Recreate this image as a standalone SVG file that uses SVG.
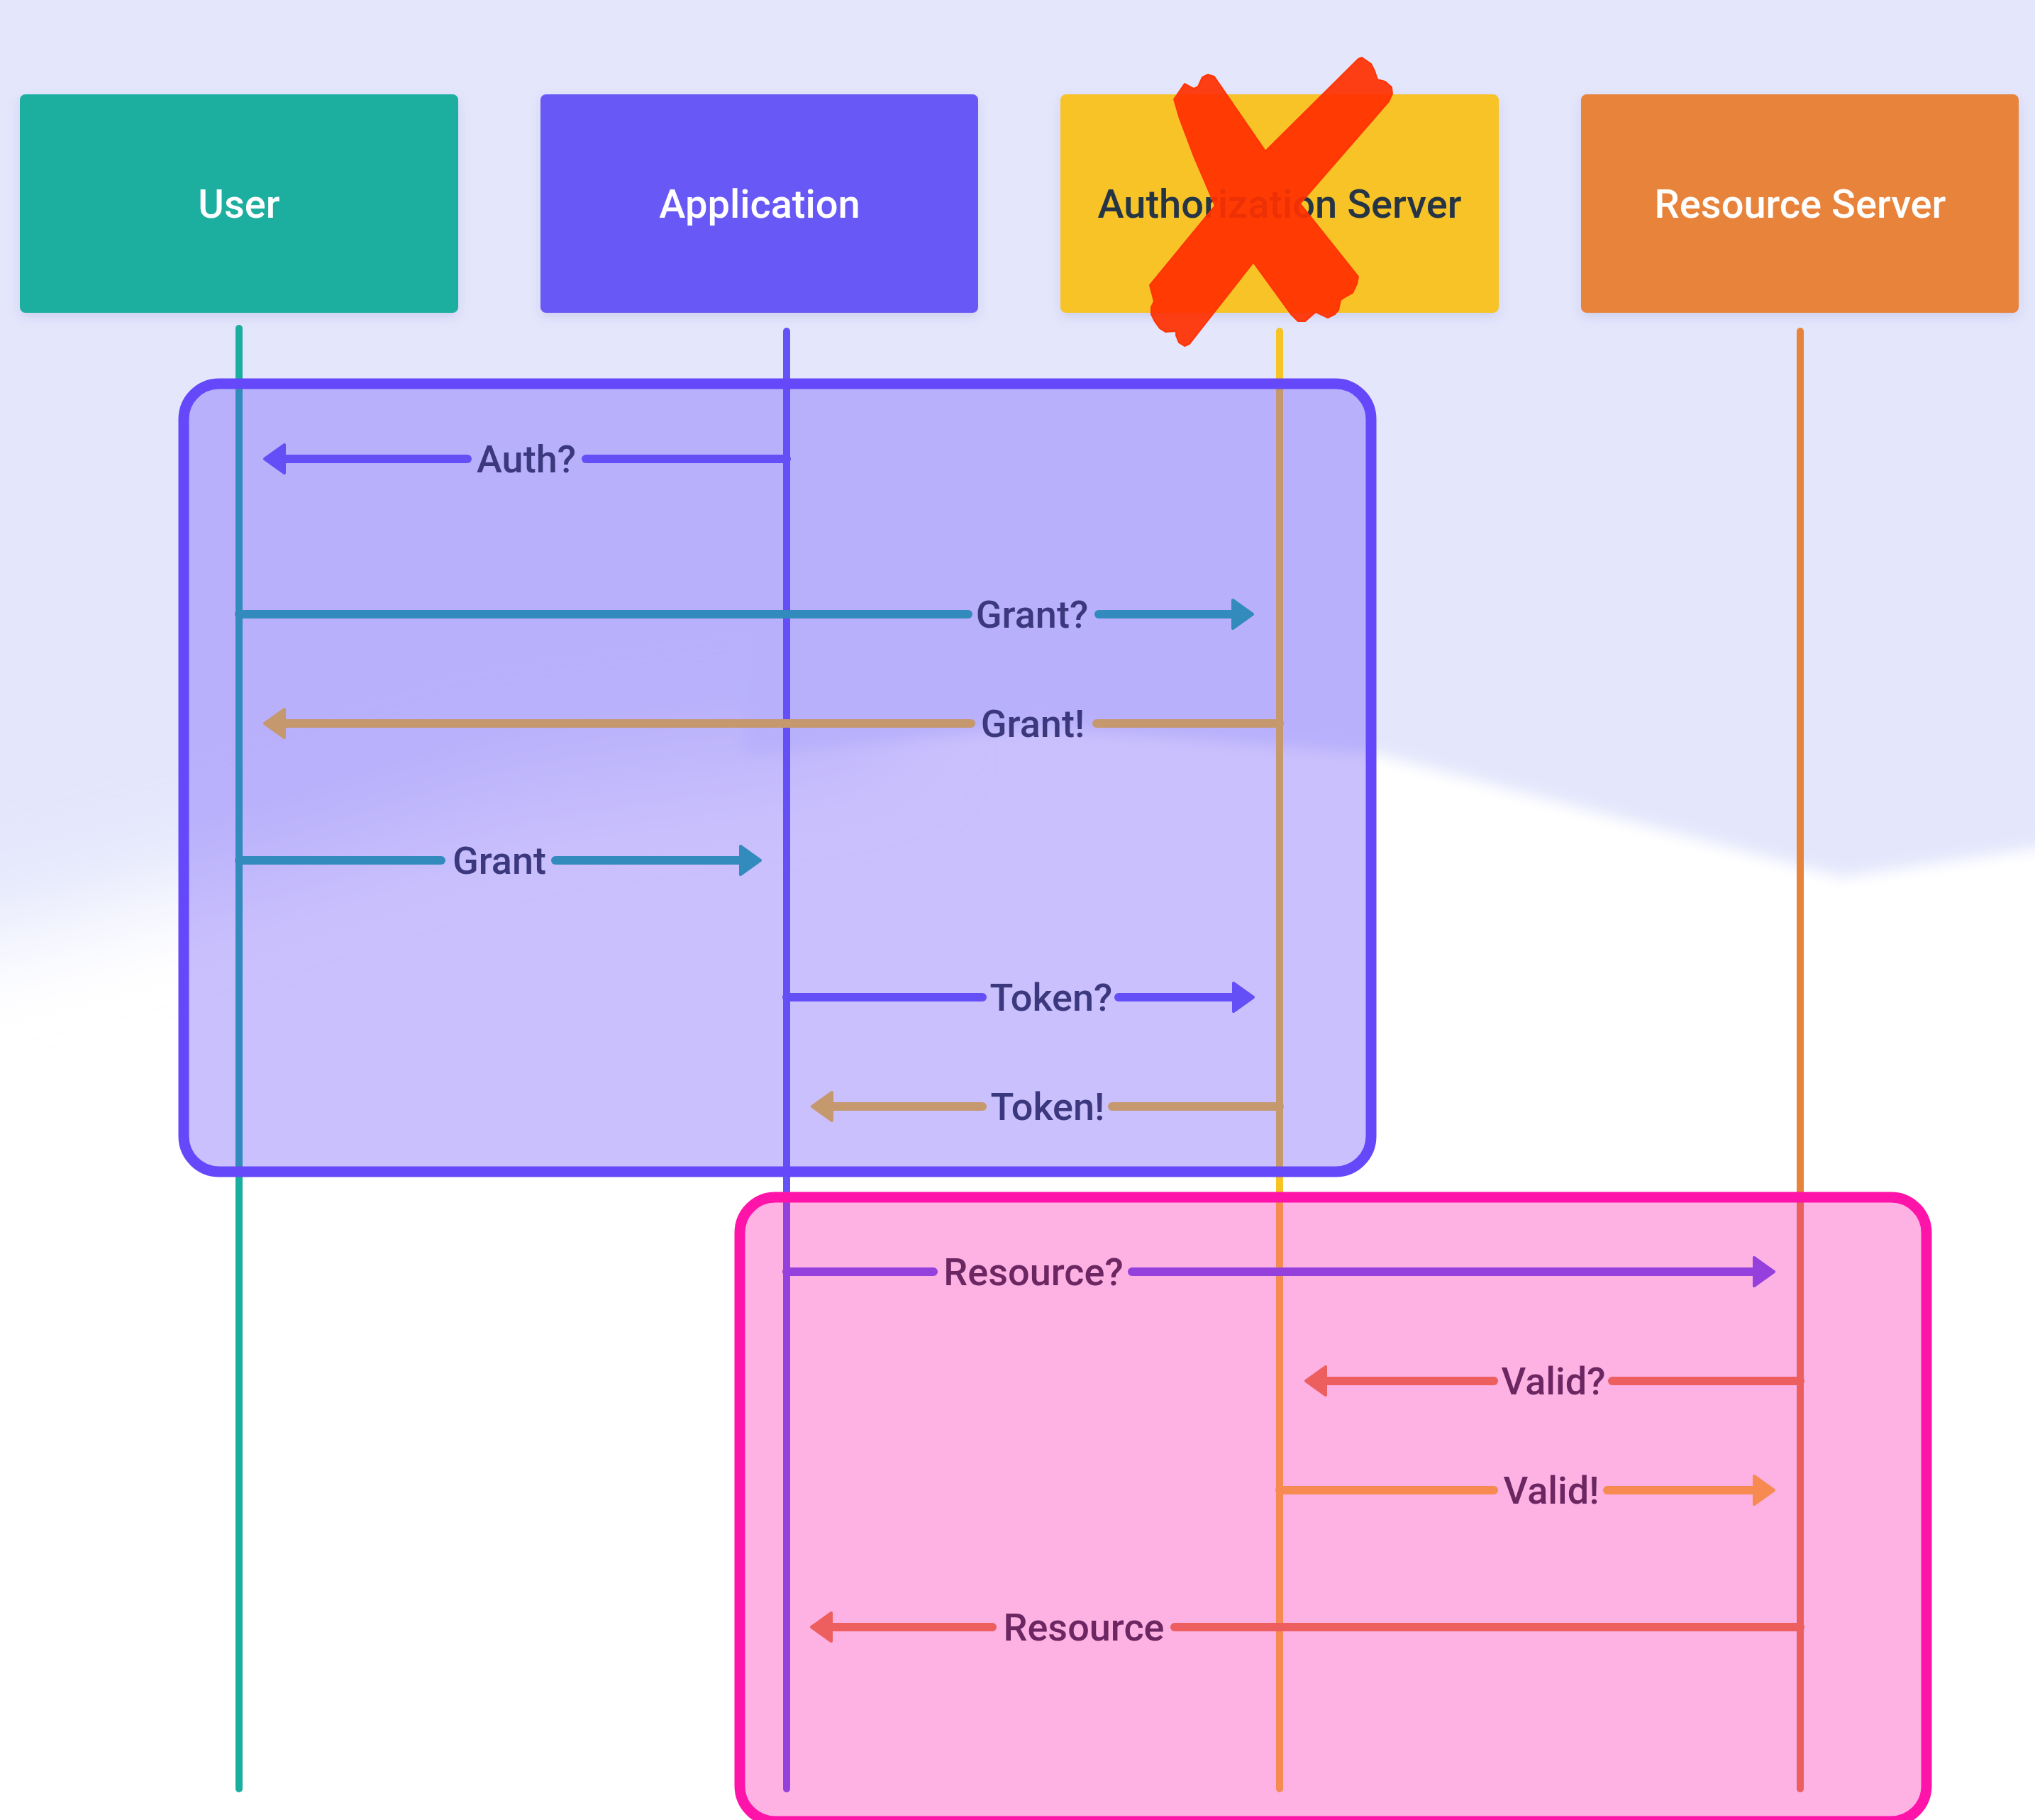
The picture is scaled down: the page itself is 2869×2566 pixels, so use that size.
<svg xmlns="http://www.w3.org/2000/svg" width="2869" height="2566" viewBox="0 0 2869 2566">
  <style>
    .lbl { font-family: Roboto, "Liberation Sans", sans-serif; font-weight: 500; font-size: 56px; text-anchor: middle; }
    .msg { font-family: Roboto, "Liberation Sans", sans-serif; font-weight: 500; font-size: 54px; text-anchor: middle; fill: #27313F; }
    .life { stroke-width: 10; stroke-linecap: round; fill: none; }
    .seg { stroke-width: 12; stroke-linecap: round; fill: none; }
    .teal { stroke: #1AAE9F; }
    .purple { stroke: #6554F5; }
    .yellow { stroke: #F7C325; }
    .orange { stroke: #E8833A; }
  </style>
  <defs>
    <filter id="shadow" x="-10%" y="-10%" width="120%" height="130%">
      <feDropShadow dx="0" dy="6" stdDeviation="8" flood-color="#3A3F8F" flood-opacity="0.14"/>
    </filter>
    <filter id="blurS" filterUnits="userSpaceOnUse" x="-300" y="-300" width="3500" height="3000">
      <feGaussianBlur stdDeviation="10"/>
    </filter>
    <filter id="blurL" filterUnits="userSpaceOnUse" x="-300" y="-300" width="3500" height="3000">
      <feGaussianBlur stdDeviation="70"/>
    </filter>
    <marker id="ah-teal" markerUnits="userSpaceOnUse" markerWidth="40" markerHeight="50" viewBox="-4 -25 40 50" refX="0" refY="0" orient="auto">
      <path d="M0,-20 L28,0 L0,20 Z" fill="#1AAE9F" stroke="#1AAE9F" stroke-width="4" stroke-linejoin="round"/>
    </marker>
    <marker id="ah-purple" markerUnits="userSpaceOnUse" markerWidth="40" markerHeight="50" viewBox="-4 -25 40 50" refX="0" refY="0" orient="auto">
      <path d="M0,-20 L28,0 L0,20 Z" fill="#6554F5" stroke="#6554F5" stroke-width="4" stroke-linejoin="round"/>
    </marker>
    <marker id="ah-yellow" markerUnits="userSpaceOnUse" markerWidth="40" markerHeight="50" viewBox="-4 -25 40 50" refX="0" refY="0" orient="auto">
      <path d="M0,-20 L28,0 L0,20 Z" fill="#F7C325" stroke="#F7C325" stroke-width="4" stroke-linejoin="round"/>
    </marker>
    <marker id="ah-orange" markerUnits="userSpaceOnUse" markerWidth="40" markerHeight="50" viewBox="-4 -25 40 50" refX="0" refY="0" orient="auto">
      <path d="M0,-20 L28,0 L0,20 Z" fill="#E8833A" stroke="#E8833A" stroke-width="4" stroke-linejoin="round"/>
    </marker>
  </defs>

  <!-- background -->
  <g id="background">
    <rect x="0" y="0" width="2869" height="2566" fill="#FFFFFF"/>
    <path d="M-200,-200 H1250 V1050 L1100,1060 L732,1110 L350,1230 L0,1320 L-200,1350 Z" fill="#E4E7FC" filter="url(#blurL)"/>
    <path d="M1050,-100 H3000 V1190 L2869,1196 L2598,1237 L1940,1063 L1464,1025 L1100,1060 L1050,1062 Z" fill="#E4E7FC" filter="url(#blurS)"/>
  </g>

  <!-- nodes -->
  <g id="node-user">
    <rect x="28" y="133" width="618" height="308" rx="8" fill="#1AAE9F" filter="url(#shadow)"/>
    <text class="lbl" x="337" y="307" fill="#FFFFFF">User</text>
  </g>
  <g id="node-application">
    <rect x="762" y="133" width="617" height="308" rx="8" fill="#6859F5" filter="url(#shadow)"/>
    <text class="lbl" x="1071" y="307" fill="#FFFFFF">Application</text>
  </g>
  <g id="node-authorization-server">
    <rect x="1495" y="133" width="618" height="308" rx="8" fill="#F7C325" filter="url(#shadow)"/>
    <text class="lbl" x="1804" y="307" fill="#263545">Authorization Server</text>
  </g>
  <g id="node-resource-server">
    <rect x="2229" y="133" width="617" height="308" rx="8" fill="#E8833A" filter="url(#shadow)"/>
    <text class="lbl" x="2538" y="307" fill="#FFFFFF">Resource Server</text>
  </g>

  <!-- lifelines -->
  <g id="lifelines">
    <line class="life teal" x1="337" y1="463" x2="337" y2="2522"/>
    <line class="life purple" x1="1109" y1="467" x2="1109" y2="2522"/>
    <line class="life yellow" x1="1804" y1="467" x2="1804" y2="2522"/>
    <line class="life orange" x1="2538" y1="467" x2="2538" y2="2522"/>
  </g>

  <!-- connectors -->
  <g id="connectors">
    <g id="msg-auth-q">
      <line class="seg purple" x1="1109" y1="647" x2="826" y2="647"/>
      <line class="seg purple" x1="659" y1="647" x2="401" y2="647" marker-end="url(#ah-purple)"/>
      <text class="msg" x="742" y="666">Auth?</text>
    </g>
    <g id="msg-grant-q">
      <line class="seg teal" x1="337" y1="866" x2="1365" y2="866"/>
      <line class="seg teal" x1="1549" y1="866" x2="1738" y2="866" marker-end="url(#ah-teal)"/>
      <text class="msg" x="1455" y="885">Grant?</text>
    </g>
    <g id="msg-grant-x">
      <line class="seg yellow" x1="1804" y1="1020" x2="1546" y2="1020"/>
      <line class="seg yellow" x1="1369" y1="1020" x2="401" y2="1020" marker-end="url(#ah-yellow)"/>
      <text class="msg" x="1456" y="1039">Grant!</text>
    </g>
    <g id="msg-grant">
      <line class="seg teal" x1="337" y1="1213" x2="622" y2="1213"/>
      <line class="seg teal" x1="783" y1="1213" x2="1044" y2="1213" marker-end="url(#ah-teal)"/>
      <text class="msg" x="704" y="1232">Grant</text>
    </g>
    <g id="msg-token-q">
      <line class="seg purple" x1="1109" y1="1406" x2="1385" y2="1406"/>
      <line class="seg purple" x1="1577" y1="1406" x2="1739" y2="1406" marker-end="url(#ah-purple)"/>
      <text class="msg" x="1482" y="1425">Token?</text>
    </g>
    <g id="msg-token-x">
      <line class="seg yellow" x1="1804" y1="1560" x2="1568" y2="1560"/>
      <line class="seg yellow" x1="1385" y1="1560" x2="1173" y2="1560" marker-end="url(#ah-yellow)"/>
      <text class="msg" x="1477" y="1579">Token!</text>
    </g>
    <g id="msg-resource-q">
      <line class="seg purple" x1="1109" y1="1793" x2="1316" y2="1793"/>
      <line class="seg purple" x1="1596" y1="1793" x2="2473" y2="1793" marker-end="url(#ah-purple)"/>
      <text class="msg" x="1457" y="1812">Resource?</text>
    </g>
    <g id="msg-valid-q">
      <line class="seg orange" x1="2538" y1="1947" x2="2273" y2="1947"/>
      <line class="seg orange" x1="2106" y1="1947" x2="1869" y2="1947" marker-end="url(#ah-orange)"/>
      <text class="msg" x="2190" y="1966">Valid?</text>
    </g>
    <g id="msg-valid-x">
      <line class="seg yellow" x1="1804" y1="2101" x2="2106" y2="2101"/>
      <line class="seg yellow" x1="2266" y1="2101" x2="2473" y2="2101" marker-end="url(#ah-yellow)"/>
      <text class="msg" x="2187" y="2120">Valid!</text>
    </g>
    <g id="msg-resource">
      <line class="seg orange" x1="2538" y1="2294" x2="1656" y2="2294"/>
      <line class="seg orange" x1="1399" y1="2294" x2="1172" y2="2294" marker-end="url(#ah-orange)"/>
      <text class="msg" x="1528" y="2313">Resource</text>
    </g>
  </g>

  <!-- frames -->
  <g id="frame-authorization">
    <rect x="259" y="541" width="1674" height="1111" rx="50" fill="rgb(99,71,249)" fill-opacity="0.34" stroke="#6448FA" stroke-width="15"/>
  </g>
  <g id="frame-resource">
    <rect x="1043" y="1688" width="1673" height="880" rx="50" fill="rgb(250,20,170)" fill-opacity="0.33" stroke="#FF14AA" stroke-width="15"/>
  </g>

  <!-- cross mark -->
  <g id="cross">
    <path d="M1655,140 L1670,118 L1683,125 L1689,122 L1695,109 L1703,105 L1712,108 L1784,213 L1915,83 L1920,81 L1933,90 L1938,100 L1942,112 L1953,115 L1962,123 L1963,132 L1958,143 L1833,287 L1915,390 L1913,400 L1907,413 L1898,418 L1890,423 L1887,437 L1882,443 L1872,448 L1855,440 L1840,453 L1830,453 L1820,443 L1767,370 L1677,485 L1670,488 L1662,483 L1658,473 L1658,467 L1643,468 L1635,463 L1628,453 L1623,443 L1623,433 L1627,425 L1621,402 L1713,290 L1683,220 L1663,167 Z" fill="#FF3000" fill-opacity="0.92" stroke="#FF3000" stroke-opacity="0.92" stroke-width="2" stroke-linejoin="round"/>
  </g>
</svg>
